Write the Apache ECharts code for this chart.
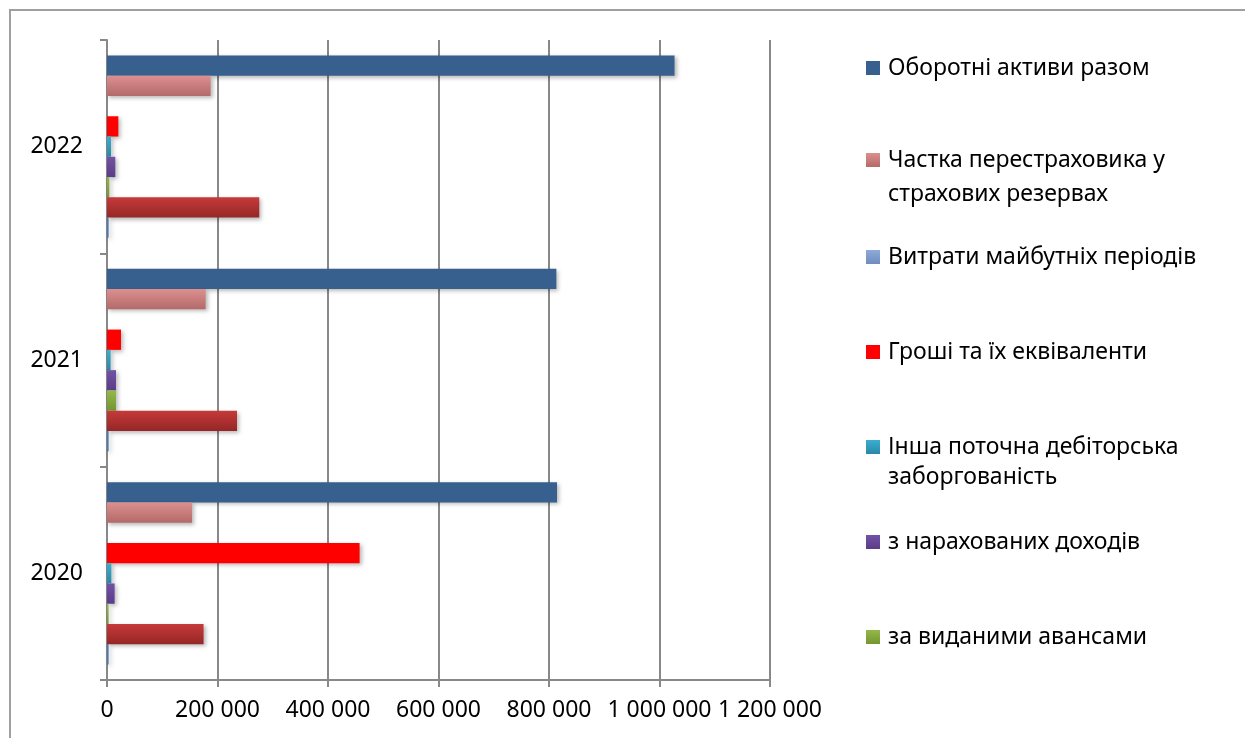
<!DOCTYPE html>
<html>
<head>
<meta charset="utf-8">
<title>Оборотні активи</title>
<script src="https://cdn.jsdelivr.net/npm/echarts@6/dist/echarts.min.js"></script>
<style>
  html, body { margin: 0; padding: 0; background: #ffffff; }
  #chart { width: 1245px; height: 738px; }
</style>
</head>
<body>
<div id="chart"></div>
<script>
// Years on the category axis (bottom to top)
const categories = ['2020', '2021', '2022'];

// Values, UAH thousand
const totalCurrentAssets   = [814500, 813300, 1027200];
const reinsurerShare       = [153900, 178500, 187500];
const deferredExpenses     = [0, 0, 0];
const cashEquivalents      = [457200, 25300, 20500];
const otherReceivables     = [7800, 6500, 7200];
const accruedIncome        = [13800, 16300, 15000];
const advancesIssued       = [2900, 16300, 4200];
const insuranceReceivables = [174800, 235300, 275600];
const inventories          = [2900, 2900, 2900];

// Value axis ticks
const xMin = 0, xMax = 1200000, xStep = 200000;

const FONT = 'Noto Sans';
const FS = 23;

function vgrad(top, bottom) {
  return new echarts.graphic.LinearGradient(0, 0, 0, 1, [
    { offset: 0, color: top }, { offset: 1, color: bottom }
  ]);
}

const seriesDefs = [
  { name: 'Оборотні активи разом', data: totalCurrentAssets, color: '#37608f' },
  { name: 'Частка перестраховика у страхових резервах', data: reinsurerShare, color: vgrad('#dc8f8f', '#b46a6a') },
  { name: 'Витрати майбутніх періодів', data: deferredExpenses, color: vgrad('#8eaad8', '#6f8cc0') },
  { name: 'Гроші та їх еквіваленти', data: cashEquivalents, color: '#ff0000' },
  { name: 'Інша поточна дебіторська заборгованість', data: otherReceivables, color: vgrad('#3aaed0', '#2a88a6') },
  { name: 'з нарахованих доходів', data: accruedIncome, color: vgrad('#7252a6', '#5a3c88') },
  { name: 'за виданими авансами', data: advancesIssued, color: vgrad('#93b84a', '#73962e') },
  { name: 'Дебіторська заборгованість за страховою діяльністю', data: insuranceReceivables, color: vgrad('#c63a3a', '#962626') },
  { name: 'Запаси', data: inventories, color: '#4a78b0' }
];

const series = seriesDefs.map(s => ({
  name: s.name,
  type: 'bar',
  data: s.data,
  barGap: '0%',
  barCategoryGap: '14.5%',
  itemStyle: {
    color: s.color,
    shadowColor: 'rgba(0,0,0,0.28)',
    shadowBlur: 4,
    shadowOffsetX: 2,
    shadowOffsetY: 2
  },
  emphasis: { disabled: true }
}));

// Legend entries: [series index, icon centre y, first line text]
const legendRows = [
  [0, 68, 'Оборотні активи разом'],
  [1, 160, 'Частка перестраховика у'],
  [2, 257, 'Витрати майбутніх періодів'],
  [3, 352, 'Гроші та їх еквіваленти'],
  [4, 447, 'Інша поточна дебіторська'],
  [5, 542, 'з нарахованих доходів'],
  [6, 637, 'за виданими авансами']
];
const legendFirstLine = {};
legendRows.forEach(r => { legendFirstLine[seriesDefs[r[0]].name] = r[2]; });

const legends = legendRows.map(r => ({
  orient: 'vertical',
  left: 866,
  top: r[1] - 13,
  padding: 0,
  itemWidth: 14,
  itemHeight: 14,
  itemGap: 0,
  selectedMode: false,
  icon: 'rect',
  data: [seriesDefs[r[0]].name],
  formatter: name => legendFirstLine[name],
  textStyle: { fontFamily: FONT, fontSize: FS, color: '#000000', lineHeight: 26, padding: [0, 0, 0, 3] }
}));

const chart = echarts.init(document.getElementById('chart'), null, { renderer: 'canvas' });

chart.setOption({
  backgroundColor: '#ffffff',
  animation: false,
  legend: legends,
  grid: { left: 107, top: 40, width: 663, height: 640, containLabel: false },
  xAxis: {
    type: 'value',
    min: xMin,
    max: xMax,
    interval: xStep,
    axisLine: { show: true, lineStyle: { color: '#888888', width: 2 } },
    axisTick: { show: true, length: 7, lineStyle: { color: '#888888', width: 2 } },
    splitLine: { show: true, lineStyle: { color: '#888888', width: 2 } },
    axisLabel: {
      margin: 19,
      fontFamily: FONT,
      fontSize: FS,
      color: '#000000',
      formatter: v => String(v).replace(/\B(?=(\d{3})+(?!\d))/g, ' ')
    }
  },
  yAxis: {
    type: 'category',
    data: categories,
    axisLine: { show: true, lineStyle: { color: '#888888', width: 2 } },
    axisTick: { show: true, length: 7, lineStyle: { color: '#888888', width: 2 } },
    splitLine: { show: false },
    axisLabel: { margin: 24, fontFamily: FONT, fontSize: FS, color: '#000000' }
  },
  series: series,
  graphic: [
    {
      type: 'polyline',
      silent: true,
      shape: { points: [[10, 738], [10, 10], [1245, 10]] },
      style: { stroke: '#a0a0a0', lineWidth: 2, fill: null }
    },
    {
      type: 'text', left: 888, top: 183, silent: true,
      style: { text: 'страхових резервах', font: FS + 'px "Noto Sans"', fill: '#000000' }
    },
    {
      type: 'text', left: 888, top: 466, silent: true,
      style: { text: 'заборгованість', font: FS + 'px "Noto Sans"', fill: '#000000' }
    }
  ]
});
</script>
</body>
</html>
